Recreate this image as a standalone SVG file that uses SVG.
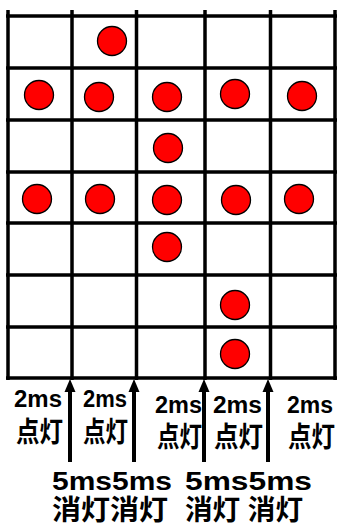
<svg xmlns="http://www.w3.org/2000/svg" width="345" height="532" viewBox="0 0 345 532">
<defs>
<style>
.g{stroke:#000;stroke-width:3.5;fill:none}
.d{fill:#ff0000;stroke:#000;stroke-width:1.3}
.t{font-family:"Liberation Sans","Noto Sans CJK JP",sans-serif;fill:#000}
.b{font-weight:bold}
.a line{stroke:#000;stroke-width:4}
.a polygon{fill:#000}
</style>
</defs>
<rect width="345" height="532" fill="#fff"/>
<g id="grid" class="g">
<line x1="8" y1="10" x2="8" y2="380"/>
<line x1="72" y1="10" x2="72" y2="380"/>
<line x1="136.5" y1="10" x2="136.5" y2="380"/>
<line x1="205" y1="10" x2="205" y2="380"/>
<line x1="270.5" y1="10" x2="270.5" y2="380"/>
<line x1="335" y1="10" x2="335" y2="380"/>
<line x1="6" y1="16" x2="337" y2="16"/>
<line x1="6" y1="68" x2="337" y2="68"/>
<line x1="6" y1="120" x2="337" y2="120"/>
<line x1="6" y1="172" x2="337" y2="172"/>
<line x1="6" y1="223" x2="337" y2="223"/>
<line x1="6" y1="275" x2="337" y2="275"/>
<line x1="6" y1="327" x2="337" y2="327"/>
<line x1="6" y1="378" x2="337" y2="378"/>
</g>
<g id="dots">
<circle class="d" cx="112" cy="41" r="14.5"/>
<circle class="d" cx="39" cy="95" r="14.5"/>
<circle class="d" cx="99" cy="97" r="14.5"/>
<circle class="d" cx="167" cy="97" r="14.5"/>
<circle class="d" cx="235" cy="94" r="14.5"/>
<circle class="d" cx="302" cy="96" r="14.5"/>
<circle class="d" cx="168" cy="148" r="14.5"/>
<circle class="d" cx="37" cy="199" r="14.5"/>
<circle class="d" cx="100" cy="199" r="14.5"/>
<circle class="d" cx="167" cy="200" r="14.5"/>
<circle class="d" cx="236" cy="200" r="14.5"/>
<circle class="d" cx="299" cy="199" r="14.5"/>
<circle class="d" cx="167" cy="247" r="14.5"/>
<circle class="d" cx="235" cy="305" r="14.5"/>
<circle class="d" cx="235" cy="354" r="14.5"/>
</g>
<g id="arrows" class="a">
<line x1="70" y1="462" x2="70" y2="388"/>
<polygon points="64.5,392 70,379 75.5,392"/>
<line x1="134" y1="462" x2="134" y2="388"/>
<polygon points="128.5,392 134,379 139.5,392"/>
<line x1="204" y1="462" x2="204" y2="388"/>
<polygon points="198.5,392 204,379 209.5,392"/>
<line x1="268" y1="462" x2="268" y2="388"/>
<polygon points="262.5,392 268,379 273.5,392"/>
</g>
<g id="labels-on" class="t b" font-size="23">
<text x="14" y="407" textLength="48" lengthAdjust="spacingAndGlyphs">2ms</text>
<text x="83" y="407" textLength="44" lengthAdjust="spacingAndGlyphs">2ms</text>
<text x="155" y="413" textLength="47" lengthAdjust="spacingAndGlyphs">2ms</text>
<text x="213" y="413" textLength="49" lengthAdjust="spacingAndGlyphs">2ms</text>
<text x="287" y="413" textLength="46" lengthAdjust="spacingAndGlyphs">2ms</text>
<text x="16" y="442" font-size="28" textLength="47" lengthAdjust="spacingAndGlyphs">点灯</text>
<text x="83" y="442" font-size="28" textLength="45" lengthAdjust="spacingAndGlyphs">点灯</text>
<text x="157" y="447" font-size="28" textLength="45" lengthAdjust="spacingAndGlyphs">点灯</text>
<text x="214" y="447" font-size="28" textLength="49" lengthAdjust="spacingAndGlyphs">点灯</text>
<text x="288" y="447" font-size="28" textLength="47" lengthAdjust="spacingAndGlyphs">点灯</text>
</g>
<g id="labels-off" class="t b">
<text x="52" y="490" font-size="25" textLength="120" lengthAdjust="spacingAndGlyphs">5ms5ms</text>
<text x="185" y="490" font-size="25" textLength="127" lengthAdjust="spacingAndGlyphs">5ms5ms</text>
<text x="52" y="520" font-size="28" textLength="116" lengthAdjust="spacingAndGlyphs">消灯消灯</text>
<text x="185" y="520" font-size="28" textLength="118" lengthAdjust="spacingAndGlyphs">消灯 消灯</text>
</g>
</svg>
